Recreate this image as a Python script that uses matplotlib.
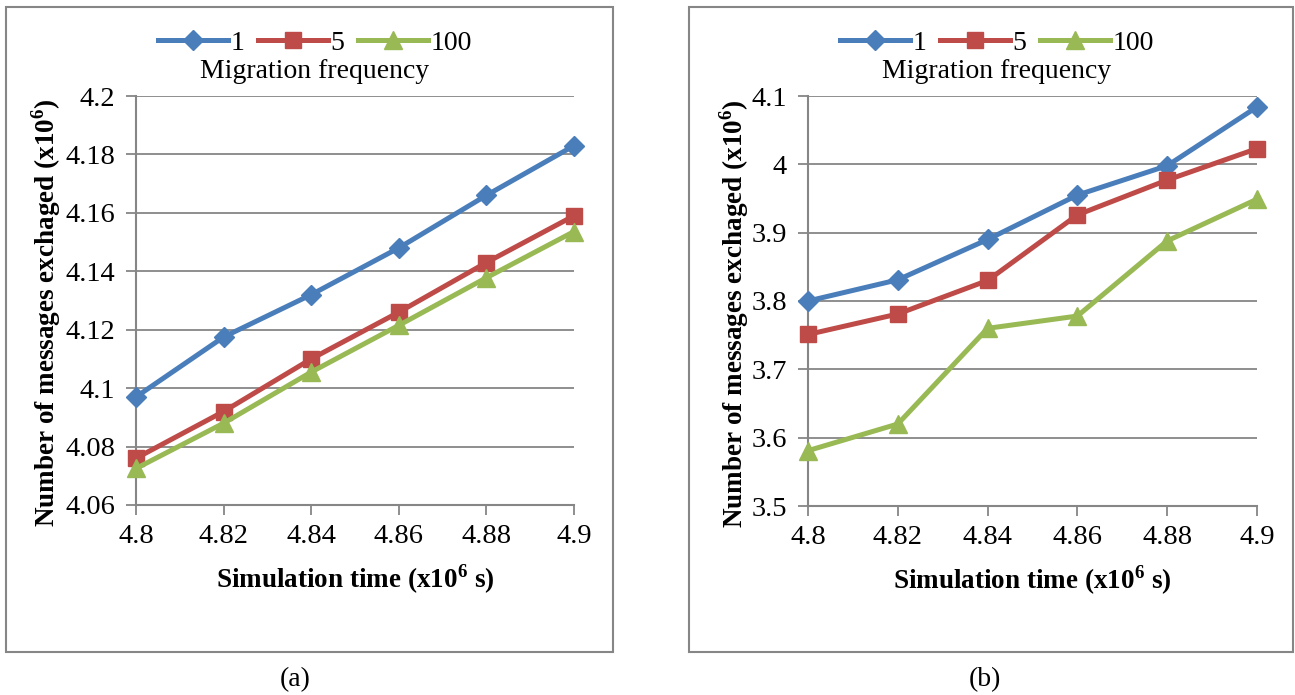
import matplotlib
matplotlib.use("Agg")
import matplotlib.pyplot as plt
import numpy as np
from matplotlib.patches import Rectangle
from matplotlib.ticker import FuncFormatter

plt.rcParams["font.family"] = ["Liberation Serif", "DejaVu Serif"]
plt.rcParams["mathtext.fontset"] = "custom"
plt.rcParams["mathtext.rm"] = "Liberation Serif"
plt.rcParams["mathtext.bf"] = "Liberation Serif:bold"

# data
sim_time = [4.80, 4.82, 4.84, 4.86, 4.88, 4.90]
series_names = ["1", "5", "100"]

a_freq1 = [4.097, 4.1175, 4.132, 4.148, 4.166, 4.183]
a_freq5 = [4.076, 4.092, 4.110, 4.126, 4.143, 4.159]
a_freq100 = [4.0725, 4.088, 4.1055, 4.1215, 4.1378, 4.1536]

b_freq1 = [3.800, 3.831, 3.890, 3.955, 3.998, 4.084]
b_freq5 = [3.751, 3.781, 3.830, 3.926, 3.977, 4.023]
b_freq100 = [3.581, 3.620, 3.760, 3.778, 3.888, 3.949]

a_yticks = [4.06, 4.08, 4.10, 4.12, 4.14, 4.16, 4.18, 4.20]
b_yticks = [3.5, 3.6, 3.7, 3.8, 3.9, 4.0, 4.1]

colors = ["#4A7EBB", "#BE4B48", "#98B954"]
markers = ["D", "s", "^"]
msizes = [10, 12, 13]
grey = "#868686"

fig = plt.figure(figsize=(12.95, 6.95), dpi=100)
W, H = 1295.0, 695.0


def px_axes(x0, x1, y0, y1):
    # pixel box (top-left origin) -> figure fraction
    return fig.add_axes([x0 / W, 1 - y1 / H, (x1 - x0) / W, (y1 - y0) / H])


def draw_panel(ax, data, yticks, box, legend_x, caption, caption_x, ylab_x):
    for vals, c, m, ms, name in zip(data, colors, markers, msizes, series_names):
        ax.plot(sim_time, vals, color=c, lw=3.6, marker=m, markersize=ms,
                markeredgecolor=c, label=name, zorder=3, clip_on=False)

    ax.set_xlim(sim_time[0], sim_time[-1])
    ax.set_ylim(yticks[0], yticks[-1])
    ax.set_xticks(sim_time)
    ax.set_yticks(yticks)
    ax.xaxis.set_major_formatter(FuncFormatter(lambda v, p: f"{round(v, 3):g}"))
    ax.yaxis.set_major_formatter(FuncFormatter(lambda v, p: f"{round(v, 3):g}"))
    ax.tick_params(axis="both", labelsize=20.5, color=grey, width=1.3, length=7)
    ax.tick_params(axis="x", pad=7)
    ax.tick_params(axis="y", pad=8)
    ax.grid(axis="y", color=grey, lw=1.3)
    ax.set_axisbelow(True)
    for s in ["top", "right"]:
        ax.spines[s].set_visible(False)
    for s in ["left", "bottom"]:
        ax.spines[s].set_color(grey)
        ax.spines[s].set_linewidth(1.5)

    ax.set_xlabel(r"Simulation time (x10$^{\mathbf{6}}$ s)", fontsize=19.5,
                  fontweight="bold", labelpad=9)
    ax.set_ylabel(r"Number of messages exchaged (x10$^{\mathbf{6}}$)", fontsize=19.5,
                  fontweight="bold")
    ax.yaxis.set_label_coords(ylab_x, 0.47)

    fig.legend(handles=ax.get_lines(), labels=series_names, ncol=3,
               loc="center", bbox_to_anchor=(legend_x / W, 1 - 43 / H),
               frameon=False, fontsize=20, handlelength=2.5,
               handletextpad=0.1, columnspacing=0.5, borderpad=0)
    fig.text(legend_x / W, 1 - 72 / H, "Migration frequency", fontsize=20,
             ha="center", va="center")

    x0, x1, y0, y1 = box
    fig.patches.append(Rectangle((x0 / W, 1 - y1 / H), (x1 - x0) / W, (y1 - y0) / H,
                                 transform=fig.transFigure, fill=False,
                                 edgecolor=grey, lw=1.5))
    fig.text(caption_x / W, 1 - 680 / H, caption, fontsize=20, ha="center",
             va="center")


ax_a = px_axes(136, 574, 96, 505)
draw_panel(ax_a, [a_freq1, a_freq5, a_freq100], a_yticks,
           (6, 613, 7, 652), 315, "(a)", 295, -0.167)

ax_b = px_axes(808, 1257, 96, 506)
draw_panel(ax_b, [b_freq1, b_freq5, b_freq100], b_yticks,
           (689, 1293, 7, 652), 997, "(b)", 985, -0.127)

fig.savefig("out.png", dpi=100)
